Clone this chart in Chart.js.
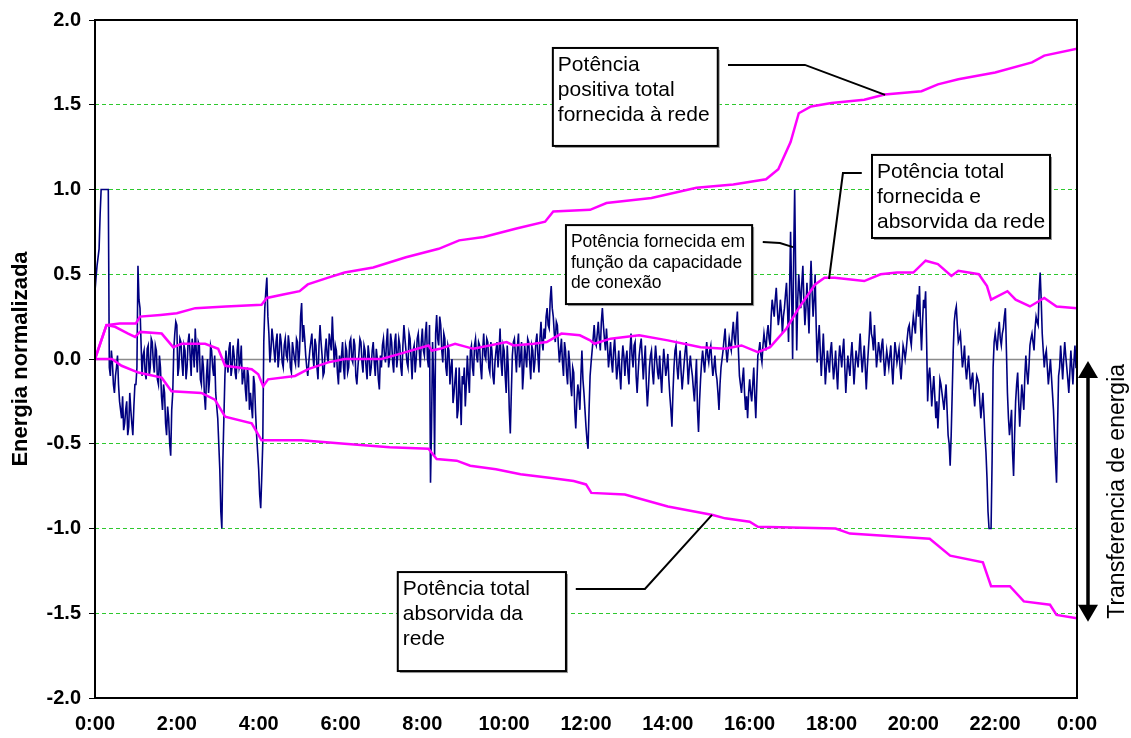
<!DOCTYPE html>
<html>
<head>
<meta charset="utf-8">
<script src="https://cdn.jsdelivr.net/npm/chart.js"></script>
<style>
  body { margin: 0; background: #ffffff; }
</style>
</head>
<body>
<canvas id="grafico" width="1131" height="738"></canvas>
<script>
// passo de amostragem da potência instantânea (horas)
var passoAmostra = 0.05;

// Potência fornecida em função da capacidade de conexão, amostras nas horas cheias do passo (uma linha = 1 hora)
var potenciaInst = [
  0.40, 0.55, 0.65, 1.00, 1.00, 1.00, 1.00, -0.05, 0.05, -0.15, -0.10, 0.02, -0.25, -0.35, -0.42, -0.30, -0.45, -0.20, -0.38, -0.28,
  -0.15, 0.55, 0.30, -0.10, 0.05, -0.12, 0.08, -0.05, 0.10, -0.08, 0.05, -0.15, -0.05, -0.30, -0.20, -0.45, -0.35, -0.57, -0.20, 0.15,
  0.20, -0.05, 0.10, -0.10, 0.05, -0.05, 0.15, -0.10, 0.05, 0.18, -0.08, 0.08, -0.15, -0.05, -0.30, 0.00, -0.12, 0.05, -0.10, -0.20,
  -0.35, -0.65, -1.00, -0.35, 0.05, -0.08, 0.10, -0.05, 0.02, -0.12, 0.12, -0.02, -0.15, -0.05, -0.25, -0.10, -0.20, -0.35, -0.15, -0.45,
  -0.65, -0.88, -0.50, 0.30, 0.48, 0.15, 0.05, 0.12, -0.02, 0.15, 0.02, 0.10, -0.05, 0.12, 0.00, 0.08, -0.08, 0.05, -0.03, 0.10,
  0.05, 0.33, 0.20, 0.02, -0.10, 0.05, 0.15, -0.05, 0.08, -0.12, 0.20, 0.02, -0.08, 0.12, -0.02, 0.10, 0.25, -0.05, 0.05, -0.15,
  -0.08, 0.10, -0.12, 0.05, -0.05, 0.12, -0.02, 0.08, -0.15, 0.03, 0.10, -0.08, 0.05, -0.12, 0.02, -0.05, 0.10, -0.10, 0.00, -0.18,
  -0.05, 0.12, -0.02, 0.18, 0.00, 0.10, -0.08, 0.15, 0.02, 0.08, -0.10, 0.20, 0.05, -0.05, 0.12, -0.12, 0.08, 0.00, 0.15, -0.05,
  0.18, 0.02, 0.22, -0.05, -0.73, 0.10, -0.57, 0.26, 0.08, 0.20, -0.02, 0.12, -0.10, 0.05, -0.05, -0.26, -0.12, -0.35, -0.05, -0.39,
  -0.15, -0.28, 0.02, -0.20, 0.08, -0.10, 0.12, -0.02, 0.08, -0.12, 0.15, 0.00, 0.10, -0.08, 0.05, -0.15, 0.05, -0.05, 0.18, -0.10,
  0.05, -0.20, -0.05, -0.44, 0.02, 0.12, -0.08, 0.15, 0.00, -0.18, 0.08, -0.05, 0.10, -0.12, 0.05, -0.02, 0.15, -0.08, 0.22, 0.05,
  0.12, 0.30, 0.18, 0.43, 0.25, 0.10, 0.20, -0.02, 0.12, -0.10, 0.05, -0.15, -0.02, -0.22, -0.08, -0.41, -0.15, -0.30, 0.05, -0.20,
  -0.40, -0.53, -0.10, 0.05, 0.20, 0.08, 0.22, 0.05, 0.30, 0.12, 0.18, -0.05, 0.10, -0.08, 0.12, -0.12, 0.05, -0.18, 0.08, -0.10,
  0.05, -0.15, 0.15, -0.05, 0.10, -0.20, 0.02, 0.12, -0.12, 0.08, -0.28, -0.05, 0.05, -0.15, 0.08, -0.08, 0.02, -0.20, 0.06, -0.10,
  0.03, -0.22, -0.40, -0.05, 0.08, -0.12, 0.05, -0.18, -0.02, 0.10, -0.15, 0.02, -0.10, -0.25, 0.00, -0.43, -0.12, 0.05, -0.08, 0.10,
  -0.02, 0.08, -0.10, 0.02, -0.12, -0.30, -0.05, 0.05, 0.18, -0.02, 0.12, 0.05, 0.22, 0.08, 0.28, -0.10, -0.20, -0.05, -0.30, -0.35,
  -0.12, -0.25, -0.05, -0.35, 0.02, 0.10, -0.02, 0.15, 0.05, 0.20, 0.08, 0.35, 0.25, 0.42, 0.20, 0.35, 0.15, 0.30, 0.45, 0.10,
  0.75, 0.00, 1.00, 0.05, 0.50, 0.30, 0.55, 0.20, 0.45, 0.15, 0.58, 0.25, 0.50, -0.02, 0.20, -0.10, 0.15, -0.15, 0.05, -0.08,
  0.10, -0.12, 0.05, -0.18, 0.08, -0.05, 0.12, -0.20, 0.02, -0.10, 0.10, -0.15, 0.05, -0.05, 0.15, -0.08, 0.08, -0.18, 0.05, 0.28,
  0.12, 0.20, -0.05, 0.10, -0.02, 0.12, -0.10, 0.05, -0.05, 0.08, -0.15, 0.10, -0.02, 0.06, -0.12, 0.08, 0.00, 0.12, 0.20, 0.08,
  0.25, 0.15, 0.38, 0.43, 0.05, 0.35, 0.40, -0.25, -0.05, -0.28, -0.10, -0.35, -0.41, -0.12, -0.20, -0.30, -0.15, -0.45, -0.63, -0.20,
  0.22, 0.31, 0.10, 0.15, -0.05, 0.08, -0.12, 0.02, -0.18, -0.08, -0.28, -0.10, -0.15, -0.35, -0.20, -0.45, -0.70, -1.00, -1.00, -0.05,
  0.15, 0.05, 0.22, 0.08, 0.18, 0.30, -0.20, -0.45, -0.30, -0.69, -0.25, -0.08, -0.40, -0.15, -0.30, 0.02, -0.15, 0.08, 0.15, 0.05,
  0.25, 0.20, 0.51, 0.15, -0.05, 0.05, -0.15, 0.00, -0.20, -0.45, -0.73, -0.10, 0.08, -0.12, 0.10, -0.05, -0.20, 0.05, -0.15, 0.08,
  -0.05
];

// amostras intermediárias (meio passo depois de cada amostra acima)
var potenciaInstMeio = [
  0.48, 0.60, 0.85, 1.00, 1.00, 1.00, 1.00, -0.10, -0.02, -0.20, -0.05, -0.15, -0.30, -0.22, -0.38, -0.25, -0.40, -0.30, -0.45, -0.15,
  -0.05, 0.35, 0.10, 0.02, -0.08, 0.06, -0.10, 0.12, -0.02, 0.08, -0.12, 0.02, -0.22, -0.15, -0.38, -0.28, -0.50, -0.30, 0.05, 0.22,
  -0.10, 0.12, -0.02, 0.08, -0.12, 0.10, 0.02, 0.12, -0.05, 0.05, 0.10, -0.12, 0.02, -0.22, -0.10, -0.20, 0.08, -0.05, 0.02, -0.28,
  -0.50, -0.90, -0.60, -0.10, -0.02, 0.06, -0.10, 0.08, -0.08, 0.05, -0.05, 0.08, -0.10, -0.18, -0.05, -0.30, -0.28, -0.10, -0.32, -0.55,
  -0.80, -0.70, 0.10, 0.40, 0.25, -0.02, 0.18, 0.05, 0.10, -0.05, 0.15, -0.02, 0.08, 0.02, 0.14, -0.05, 0.10, 0.00, 0.12, -0.05,
  0.25, 0.10, 0.12, -0.05, -0.02, 0.10, 0.02, 0.12, -0.05, 0.08, 0.10, -0.10, 0.05, 0.02, 0.15, 0.05, 0.10, 0.08, -0.08, 0.02,
  0.02, -0.05, 0.08, -0.08, 0.10, 0.00, 0.12, -0.10, -0.05, 0.12, -0.02, 0.08, -0.05, 0.08, -0.10, 0.05, -0.02, 0.06, -0.12, 0.02,
  0.08, 0.02, 0.10, -0.05, 0.15, -0.02, 0.10, -0.05, 0.12, -0.05, 0.08, 0.12, -0.02, 0.15, 0.00, 0.05, -0.08, 0.12, 0.05, 0.10,
  0.05, 0.15, 0.00, 0.20, -0.40, -0.10, 0.15, 0.12, 0.25, 0.05, 0.15, -0.05, 0.08, -0.15, 0.00, -0.20, -0.05, -0.30, -0.20, -0.10,
  -0.05, -0.15, -0.10, 0.05, -0.05, 0.08, 0.02, 0.10, -0.05, 0.05, 0.02, 0.12, -0.05, 0.10, -0.10, -0.02, 0.10, 0.05, -0.02, 0.08,
  -0.10, 0.08, -0.30, -0.20, 0.10, 0.02, 0.08, -0.05, 0.10, -0.08, 0.02, 0.12, -0.02, 0.08, -0.08, 0.10, 0.02, 0.12, 0.10, 0.18,
  0.25, 0.20, 0.35, 0.30, 0.15, 0.22, 0.08, 0.05, -0.02, 0.10, -0.08, 0.05, -0.15, -0.05, -0.30, -0.25, -0.20, -0.10, -0.12, -0.30,
  -0.48, -0.30, -0.02, 0.12, 0.10, 0.15, 0.12, 0.22, 0.20, 0.05, 0.08, 0.02, -0.02, 0.05, 0.00, -0.05, -0.08, -0.02, 0.02, 0.00,
  -0.08, 0.05, 0.02, 0.08, -0.10, -0.08, 0.08, 0.00, -0.02, -0.15, -0.18, 0.02, -0.08, -0.02, 0.00, -0.12, -0.10, -0.05, -0.02, -0.05,
  -0.12, -0.30, -0.20, 0.05, -0.05, -0.02, -0.08, -0.10, 0.05, -0.02, -0.05, -0.05, -0.18, -0.12, -0.30, -0.25, -0.02, -0.02, 0.02, 0.02,
  0.05, -0.02, -0.05, -0.08, -0.20, -0.15, 0.00, 0.12, 0.05, 0.05, 0.08, 0.15, 0.12, 0.20, 0.05, -0.15, -0.12, -0.20, -0.22, -0.20,
  -0.20, -0.15, -0.22, -0.15, 0.05, 0.02, 0.08, 0.10, 0.15, 0.12, 0.25, 0.30, 0.35, 0.30, 0.25, 0.28, 0.25, 0.38, 0.30, 0.40,
  0.40, 0.60, 0.50, 0.35, 0.40, 0.45, 0.35, 0.30, 0.30, 0.40, 0.40, 0.35, 0.20, 0.10, 0.05, 0.02, 0.00, -0.05, -0.02, 0.05,
  -0.02, -0.05, -0.08, -0.02, 0.02, 0.05, -0.05, -0.08, -0.05, 0.02, -0.02, -0.05, 0.00, 0.05, 0.02, 0.00, -0.05, -0.05, 0.15, 0.15,
  0.05, 0.08, 0.02, 0.05, 0.08, 0.00, -0.02, 0.00, 0.02, -0.05, -0.02, 0.05, 0.02, -0.05, -0.02, 0.05, 0.05, 0.18, 0.12, 0.18,
  0.20, 0.28, 0.25, 0.20, 0.22, 0.30, 0.10, -0.10, -0.15, -0.18, -0.22, -0.25, -0.28, -0.15, -0.25, -0.22, -0.30, -0.50, -0.45, 0.05,
  0.28, 0.20, 0.12, 0.05, 0.00, -0.05, -0.05, -0.08, -0.12, -0.20, -0.18, -0.12, -0.25, -0.28, -0.32, -0.55, -0.90, -1.00, -0.60, 0.10,
  0.10, 0.15, 0.12, 0.15, 0.25, 0.05, -0.35, -0.38, -0.55, -0.45, -0.15, -0.25, -0.28, -0.22, -0.10, -0.08, -0.05, 0.12, 0.10, 0.18,
  0.22, 0.40, 0.35, 0.05, 0.02, -0.05, -0.08, -0.10, -0.30, -0.60, -0.40, -0.05, -0.02, 0.00, 0.02, -0.12, -0.08, -0.05, -0.02, -0.05
];

// Potência positiva total fornecida à rede
var horasPositiva = [0, 0.28, 0.6, 1.0, 1.1, 1.6, 2.0, 2.45, 3.2, 4.07, 4.2, 4.6, 5.0, 5.2, 5.7, 6.1, 6.8, 7.6, 8.4, 8.9, 9.5, 10.3, 11.0, 11.2, 12.1, 12.5, 13.6, 14.7, 15.6, 16.4, 16.7, 17.0, 17.2, 17.5, 18.0, 18.8, 19.3, 20.2, 20.6, 21.1, 22.0, 22.9, 23.2, 24.0];
var valoresPositiva = [0, 0.20, 0.21, 0.21, 0.25, 0.26, 0.27, 0.30, 0.31, 0.32, 0.36, 0.38, 0.40, 0.44, 0.48, 0.51, 0.54, 0.60, 0.65, 0.70, 0.72, 0.77, 0.81, 0.87, 0.88, 0.92, 0.95, 1.01, 1.03, 1.06, 1.12, 1.28, 1.45, 1.49, 1.51, 1.53, 1.56, 1.58, 1.62, 1.65, 1.69, 1.75, 1.79, 1.83];

// Potência total fornecida e absorvida da rede
var horasLiquida = [0, 0.28, 0.49, 0.81, 0.98, 1.1, 1.63, 1.91, 2.12, 2.69, 3.01, 3.18, 3.83, 3.99, 4.11, 4.23, 4.89, 5.21, 5.7, 6.1, 7.0, 7.45, 8.15, 8.23, 8.43, 8.8, 9.25, 10.06, 10.23, 10.72, 11.04, 11.4, 11.85, 12.1, 12.2, 12.6, 13.3, 14.0, 14.8, 15.4, 15.8, 16.2, 16.5, 16.9, 17.2, 17.6, 17.83, 18.08, 18.8, 19.2, 19.6, 20.0, 20.3, 20.6, 20.93, 21.1, 21.6, 21.8, 21.9, 22.3, 22.5, 22.85, 23.2, 23.5, 24.0];
var valoresLiquida = [0, 0.20, 0.19, 0.15, 0.13, 0.16, 0.15, 0.07, 0.09, 0.09, 0.06, -0.04, -0.06, -0.09, -0.16, -0.12, -0.10, -0.06, -0.02, 0.00, 0.00, 0.03, 0.08, 0.05, 0.06, 0.09, 0.06, 0.10, 0.08, 0.09, 0.10, 0.15, 0.14, 0.11, 0.09, 0.12, 0.14, 0.11, 0.07, 0.06, 0.08, 0.04, 0.07, 0.18, 0.30, 0.44, 0.48, 0.48, 0.46, 0.50, 0.51, 0.51, 0.58, 0.56, 0.49, 0.52, 0.50, 0.43, 0.35, 0.40, 0.35, 0.31, 0.36, 0.31, 0.30];

// Potência total absorvida da rede
var horasAbsorvida = [0, 0.41, 0.65, 1.06, 1.63, 1.87, 2.6, 2.93, 3.18, 3.83, 4.07, 5.05, 6.1, 7.2, 8.15, 8.35, 8.84, 9.17, 9.8, 10.4, 11.1, 11.7, 12.0, 12.13, 12.95, 14.0, 15.1, 15.4, 16.0, 16.2, 18.1, 18.45, 20.4, 20.9, 21.7, 21.9, 22.36, 22.7, 23.34, 23.5, 24.0];
var valoresAbsorvida = [0, 0, -0.04, -0.08, -0.11, -0.19, -0.20, -0.24, -0.34, -0.38, -0.48, -0.48, -0.50, -0.52, -0.53, -0.59, -0.60, -0.63, -0.65, -0.68, -0.70, -0.72, -0.74, -0.79, -0.80, -0.87, -0.92, -0.94, -0.96, -0.99, -1.00, -1.03, -1.06, -1.16, -1.20, -1.34, -1.34, -1.43, -1.45, -1.51, -1.53];

// caixas de texto (coordenadas em horas / energia normalizada)
var notas = [
  { linhas: ["Potência", "positiva total", "fornecida à rede"], caixa: [11.19, 1.835, 15.22, 1.257], fonte: 21, entre: 25,
    guia: [[15.47, 1.735], [17.35, 1.735], [19.31, 1.558]] },
  { linhas: ["Potência fornecida em", "função da capacidade", "de conexão"], caixa: [11.51, 0.79, 16.06, 0.324], fonte: 17.5, entre: 20.5,
    guia: [[16.32, 0.69], [16.74, 0.684], [17.06, 0.66]] },
  { linhas: ["Potência total", "fornecida e", "absorvida da rede"], caixa: [18.99, 1.204, 23.34, 0.714], fonte: 21, entre: 25,
    guia: [[18.74, 1.097], [18.28, 1.097], [17.94, 0.472]] },
  { linhas: ["Potência total", "absorvida da", "rede"], caixa: [7.40, -1.257, 11.51, -1.841], fonte: 21, entre: 25,
    guia: [[11.75, -1.357], [13.44, -1.357], [15.08, -0.92]] }
];

function pares(xs, ys) {
  return xs.map(function (x, i) { return { x: x, y: ys[i] }; });
}

// junta as amostras cheias e intermediárias em ordem de tempo
var pontosInst = [];
potenciaInst.forEach(function (v, i) {
  pontosInst.push({ x: i * passoAmostra, y: v });
  if (i < potenciaInstMeio.length) {
    pontosInst.push({ x: (i + 0.5) * passoAmostra, y: potenciaInstMeio[i] });
  }
});

var fonteArial = "'Liberation Sans', Arial, sans-serif";

var desenhos = {
  id: "desenhos",
  beforeDatasetsDraw: function (chart) {
    var ctx = chart.ctx, a = chart.chartArea, ys = chart.scales.y;
    var y0 = Math.round(ys.getPixelForValue(0)) + 0.5;
    ctx.save();
    ctx.strokeStyle = "#8c8c8c";
    ctx.lineWidth = 1.5;
    ctx.beginPath();
    ctx.moveTo(a.left, y0);
    ctx.lineTo(a.right, y0);
    ctx.stroke();
    ctx.restore();
  },
  afterDatasetsDraw: function (chart) {
    var ctx = chart.ctx, a = chart.chartArea;
    ctx.save();
    ctx.strokeStyle = "#000";
    ctx.lineWidth = 2;
    ctx.strokeRect(a.left, a.top, a.right - a.left, a.bottom - a.top);
    ctx.restore();
  },
  afterDraw: function (chart) {
    var ctx = chart.ctx, a = chart.chartArea;
    var xs = chart.scales.x, ys = chart.scales.y;
    ctx.save();
    notas.forEach(function (n) {
      // linha guia
      ctx.strokeStyle = "#000";
      ctx.lineWidth = 2;
      ctx.beginPath();
      n.guia.forEach(function (p, i) {
        var px = xs.getPixelForValue(p[0]), py = ys.getPixelForValue(p[1]);
        if (i === 0) ctx.moveTo(px, py); else ctx.lineTo(px, py);
      });
      ctx.stroke();
      // caixa
      var l = xs.getPixelForValue(n.caixa[0]), t = ys.getPixelForValue(n.caixa[1]);
      var r = xs.getPixelForValue(n.caixa[2]), b = ys.getPixelForValue(n.caixa[3]);
      ctx.fillStyle = "#9a9a9a";
      ctx.fillRect(l + 2, t + 2, r - l, b - t);
      ctx.fillStyle = "#fff";
      ctx.fillRect(l, t, r - l, b - t);
      ctx.lineWidth = 2;
      ctx.strokeRect(l, t, r - l, b - t);
      ctx.fillStyle = "#000";
      ctx.font = n.fonte + "px " + fonteArial;
      ctx.textBaseline = "middle";
      ctx.textAlign = "left";
      n.linhas.forEach(function (txt, i) {
        ctx.fillText(txt, l + 5, t + 17.5 + i * n.entre);
      });
    });

    // seta dupla de transferência de energia
    var xa = a.right + 11;
    var yTopo = ys.getPixelForValue(0) + 2, yBase = ys.getPixelForValue(-1.55);
    ctx.strokeStyle = "#000";
    ctx.fillStyle = "#000";
    ctx.lineWidth = 3.5;
    ctx.beginPath();
    ctx.moveTo(xa, yTopo + 12);
    ctx.lineTo(xa, yBase - 12);
    ctx.stroke();
    ctx.beginPath();
    ctx.moveTo(xa, yTopo);
    ctx.lineTo(xa - 10, yTopo + 17);
    ctx.lineTo(xa + 10, yTopo + 17);
    ctx.closePath();
    ctx.fill();
    ctx.beginPath();
    ctx.moveTo(xa, yBase);
    ctx.lineTo(xa - 10, yBase - 17);
    ctx.lineTo(xa + 10, yBase - 17);
    ctx.closePath();
    ctx.fill();

    ctx.translate(a.right + 41, (yTopo + yBase) / 2);
    ctx.rotate(-Math.PI / 2);
    ctx.font = "23px " + fonteArial;
    ctx.textAlign = "center";
    ctx.textBaseline = "middle";
    ctx.fillText("Transferencia de energia", 0, 0);
    ctx.restore();
  }
};

var ctx = document.getElementById("grafico");
var grafico = new Chart(ctx, {
  type: "line",
  data: {
    datasets: [
      { label: "Potência positiva total fornecida à rede", data: pares(horasPositiva, valoresPositiva),
        borderColor: "#ff00ff", borderWidth: 2.5, pointRadius: 0, tension: 0 },
      { label: "Potência total fornecida e absorvida da rede", data: pares(horasLiquida, valoresLiquida),
        borderColor: "#ff00ff", borderWidth: 2.5, pointRadius: 0, tension: 0 },
      { label: "Potência total absorvida da rede", data: pares(horasAbsorvida, valoresAbsorvida),
        borderColor: "#ff00ff", borderWidth: 2.5, pointRadius: 0, tension: 0 },
      { label: "Potência fornecida em função da capacidade de conexão", data: pontosInst,
        borderColor: "#000080", borderWidth: 1.6, pointRadius: 0, tension: 0 }
    ]
  },
  options: {
    responsive: false,
    devicePixelRatio: 1,
    animation: false,
    layout: { padding: { top: 20, right: 54, bottom: 0, left: 0 } },
    plugins: { legend: { display: false }, tooltip: { enabled: false } },
    scales: {
      x: {
        type: "linear",
        min: 0,
        max: 24,
        afterFit: function (s) { s.height = 40; },
        grid: { display: false },
        border: { display: false },
        ticks: {
          stepSize: 2,
          padding: 6,
          color: "#000",
          font: { family: fonteArial, size: 20, weight: "bold" },
          callback: function (v) { return (v % 24) + ":00"; }
        }
      },
      y: {
        min: -2,
        max: 2,
        afterFit: function (s) { s.width = 95; },
        border: { display: false, dash: [4, 3] },
        grid: {
          color: function (c) {
            var v = c.tick ? c.tick.value : 1;
            if (v === 0 || v === 2 || v === -2) return "rgba(0,0,0,0)";
            return "#2ec82e";
          },
          tickColor: "#000",
          tickLength: 6,
          lineWidth: 1
        },
        ticks: {
          stepSize: 0.5,
          padding: 8,
          color: "#000",
          font: { family: fonteArial, size: 20, weight: "bold" },
          callback: function (v) { return v.toFixed(1); }
        },
        title: {
          display: true,
          text: "Energia normalizada",
          color: "#000",
          padding: { top: 8, bottom: 0 },
          font: { family: fonteArial, size: 22, weight: "bold" }
        }
      }
    }
  },
  plugins: [desenhos]
});
</script>
</body>
</html>
